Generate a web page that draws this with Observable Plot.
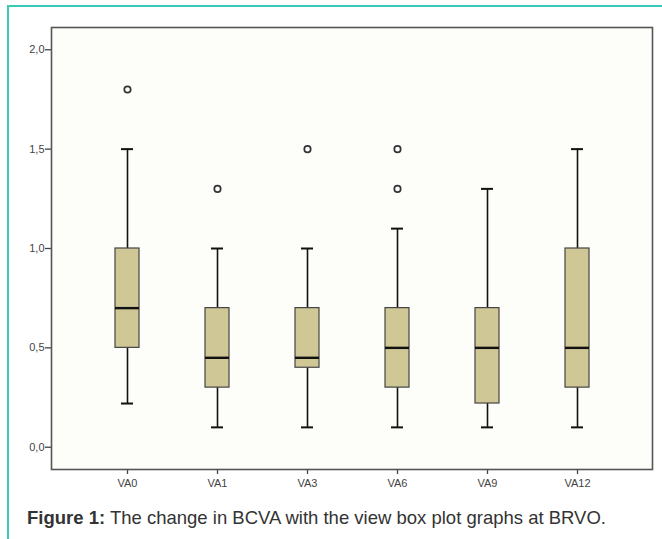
<!DOCTYPE html>
<html>
<head>
<meta charset="utf-8">
<script src="https://cdn.jsdelivr.net/npm/d3@7"></script>
<script src="https://cdn.jsdelivr.net/npm/@observablehq/plot@0.6"></script>
<style>
  html, body { margin: 0; padding: 0; background: #ffffff; }
  #wrap { position: relative; width: 662px; height: 539px; overflow: hidden; background: #fff; }
  #border { position: absolute; left: 7px; top: 5px; right: -20px; bottom: -20px;
            border-left: 2px solid #3cc8b4; border-top: 2px solid #3cc8b4; }
  #chart { position: absolute; left: 0; top: 0; }
  #caption { position: absolute; left: 27px; top: 507px; font-family: "Liberation Sans", Arial, sans-serif;
             font-size: 18.5px; color: #333; white-space: nowrap; }
  #caption b { font-weight: bold; }
</style>
</head>
<body>
<div id="wrap">
  <div id="border"></div>
  <div id="chart"></div>
  <div id="caption"><b>Figure 1:</b> The change in BCVA with the view box plot graphs at BRVO.</div>
</div>
<script>
const categories = ["VA0", "VA1", "VA3", "VA6", "VA9", "VA12"];
const minVals    = [0.22, 0.10, 0.10, 0.10, 0.10, 0.10];
const q1Vals     = [0.50, 0.30, 0.40, 0.30, 0.22, 0.30];
const medianVals = [0.70, 0.45, 0.45, 0.50, 0.50, 0.50];
const q3Vals     = [1.00, 0.70, 0.70, 0.70, 0.70, 1.00];
const maxVals    = [1.50, 1.00, 1.00, 1.10, 1.30, 1.50];
const outlierCats = ["VA0", "VA1", "VA3", "VA6", "VA6"];
const outlierVals = [1.80, 1.30, 1.50, 1.30, 1.50];
const yTicks = [0, 0.5, 1.0, 1.5, 2.0];

const stats = categories.map((c, i) => ({
  cat: c, min: minVals[i], q1: q1Vals[i], med: medianVals[i], q3: q3Vals[i], max: maxVals[i]
}));
const outliers = outlierCats.map((c, i) => ({cat: c, v: outlierVals[i]}));

const chart = Plot.plot({
  width: 662,
  height: 500,
  marginLeft: 51,
  marginRight: 10,
  marginTop: 27,
  marginBottom: 31,
  style: {fontFamily: "'Liberation Sans', Arial, sans-serif", background: "transparent"},
  x: {type: "band", domain: categories, paddingInner: 0.735, paddingOuter: 0.695, label: null},
  y: {domain: [-0.112, 2.112], label: null},
  marks: [
    Plot.frame({fill: "#fdfdf9", stroke: "none"}),
    Plot.ruleX(stats, {x: "cat", y1: "min", y2: "q1", stroke: "#111", strokeWidth: 1.6}),
    Plot.ruleX(stats, {x: "cat", y1: "q3", y2: "max", stroke: "#111", strokeWidth: 1.6}),
    Plot.tickY(stats, {x: "cat", y: "min", stroke: "#111", strokeWidth: 2, insetLeft: 6, insetRight: 6}),
    Plot.tickY(stats, {x: "cat", y: "max", stroke: "#111", strokeWidth: 2, insetLeft: 6, insetRight: 6}),
    Plot.barY(stats, {x: "cat", y1: "q1", y2: "q3", fill: "#cfc796", stroke: "#444", strokeWidth: 1.2}),
    Plot.tickY(stats, {x: "cat", y: "med", stroke: "#111", strokeWidth: 2.4}),
    Plot.dot(outliers, {x: "cat", y: "v", r: 3.2, fill: "#fff", stroke: "#333", strokeWidth: 1.7}),
    Plot.axisY({ticks: yTicks, tickFormat: d => d.toFixed(1).replace(".", ","), tickSize: 6, tickPadding: 1,
                fontSize: 11, fill: "#444", stroke: "#444", strokeWidth: 1.3, label: null}),
    Plot.axisX({tickSize: 5, tickPadding: 5, fontSize: 11, fill: "#444", stroke: "#444", strokeWidth: 1.3, label: null}),
    Plot.frame({stroke: "#555", strokeWidth: 1.6})
  ]
});
document.getElementById("chart").appendChild(chart);
</script>
</body>
</html>
